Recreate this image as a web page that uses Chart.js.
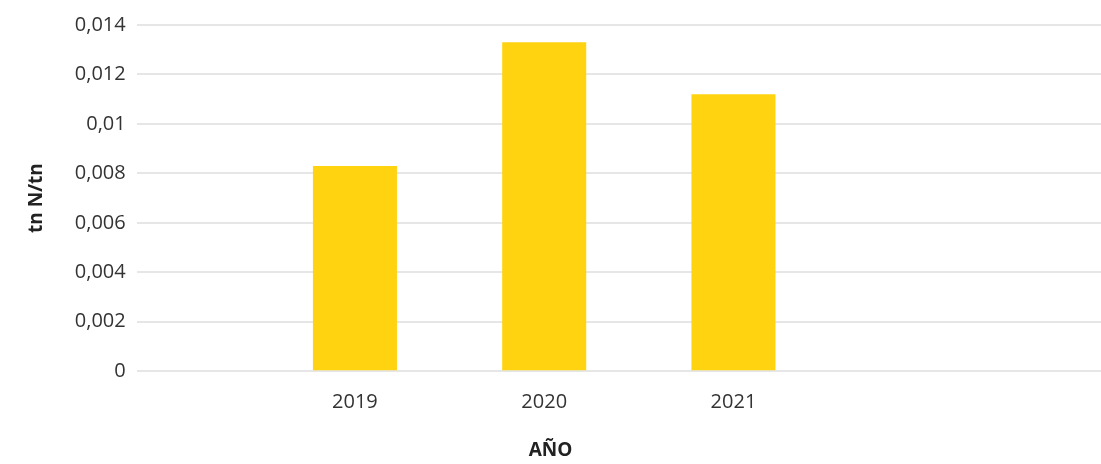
<!DOCTYPE html>
<html>
<head>
<meta charset="utf-8">
<script src="https://cdn.jsdelivr.net/npm/chart.js@4"></script>
<style>
  html, body { margin: 0; padding: 0; background: #fff; }
  #wrap { width: 1101px; height: 464px; }
</style>
</head>
<body>
<div id="wrap"><canvas id="chart"></canvas></div>
<script>
const years = [2019, 2020, 2021]
const valores = [0.0083, 0.0133, 0.0112]
const yTicks = [0, 0.002, 0.004, 0.006, 0.008, 0.01, 0.012, 0.014]

const ctx = document.getElementById('chart').getContext('2d')

// formato con coma decimal, como en el original
function coma(v) {
    return String(parseFloat(v.toFixed(4))).replace('.', ',')
}

new Chart(ctx, {
    type: 'bar',
    data: {
        datasets: [{
            label: 'tn N/tn',
            data: years.map((yr, i) => ({ x: yr, y: valores[i] })),
            backgroundColor: '#FFD310',
            borderWidth: 0,
            barPercentage: 0.444,
            categoryPercentage: 1
        }]
    },
    options: {
        responsive: true,
        maintainAspectRatio: false,
        animation: false,
        layout: { padding: { top: 25, right: 0, left: 0, bottom: 0 } },
        plugins: {
            legend: { display: false },
            tooltip: { enabled: false },
            // el titulo del eje X va centrado en todo el ancho, no en el area del grafico
            title: {
                display: true,
                position: 'bottom',
                text: 'AÑO',
                color: '#222',
                font: { family: 'Open Sans', size: 19, weight: 'bold' },
                padding: { top: 14, bottom: 2 }
            }
        },
        scales: {
            x: {
                type: 'linear',
                offset: false,
                min: 2017.847,
                max: 2022.942,
                afterBuildTicks: scale => { scale.ticks = years.map(v => ({ value: v })) },
                grid: { display: false },
                border: { display: false },
                ticks: {
                    color: '#333',
                    font: { family: 'Open Sans', size: 20 },
                    padding: 11,
                    callback: v => String(v)
                }
            },
            y: {
                min: 0,
                max: 0.014,
                afterBuildTicks: scale => { scale.ticks = yTicks.map(v => ({ value: v })) },
                grid: { color: '#e6e6e6', lineWidth: 2, drawTicks: false },
                border: { display: false },
                ticks: {
                    color: '#333',
                    font: { family: 'Open Sans', size: 20 },
                    padding: 11,
                    callback: v => coma(v)
                },
                title: {
                    display: true,
                    text: 'tn N/tn',
                    color: '#222',
                    font: { family: 'Open Sans', size: 19, weight: 'bold' },
                    padding: { top: 25, bottom: 16 }
                }
            }
        }
    }
})
</script>
</body>
</html>
